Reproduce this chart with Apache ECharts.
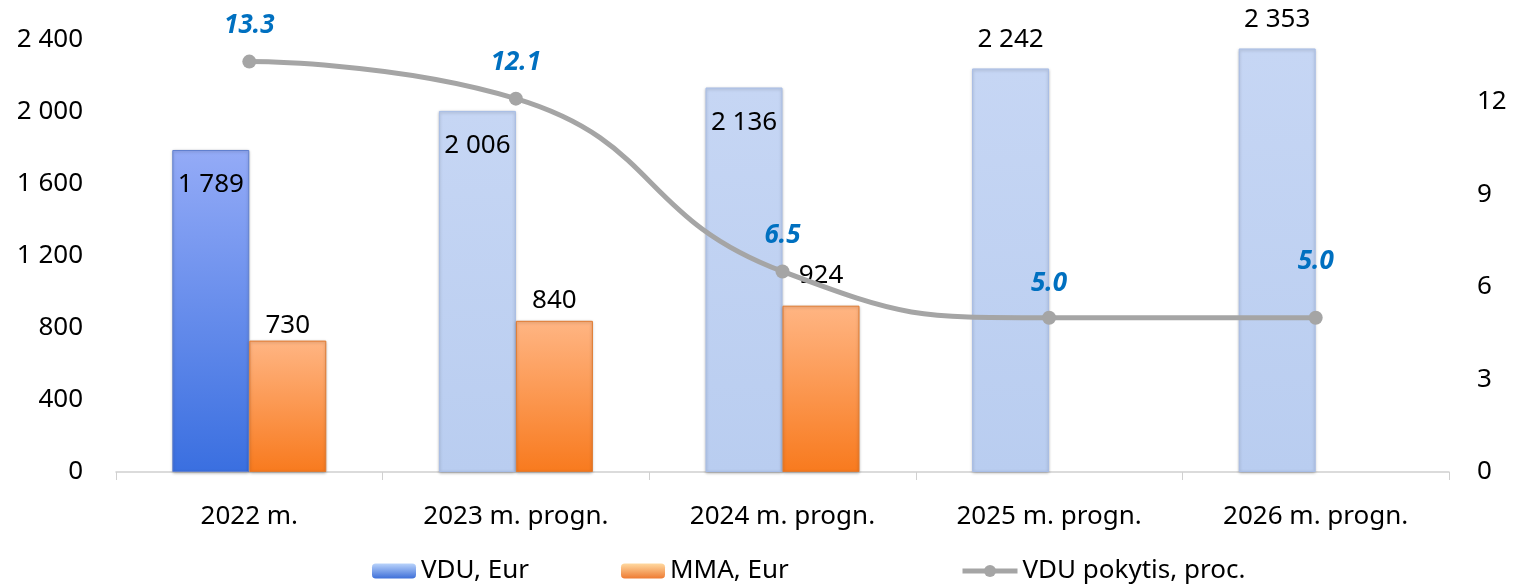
<!DOCTYPE html>
<html><head><meta charset="utf-8">
<script src="https://cdn.jsdelivr.net/npm/echarts@6/dist/echarts.min.js"></script>
<style>html,body{margin:0;padding:0;background:#fff}#c{width:1514px;height:587px}</style>
</head><body><div id="c"></div>
<script>
const categories = ['2022 m.', '2023 m. progn.', '2024 m. progn.', '2025 m. progn.', '2026 m. progn.'];
const vduValues = [1789, 2006, 2136, 2242, 2353];
const mmaValues = [730, 840, 924, null, null];
const growthValues = [13.3, 12.1, 6.5, 5.0, 5.0];
const leftTicks = [0, 400, 800, 1200, 1600, 2000, 2400];
const rightTicks = [0, 3, 6, 9, 12];

const FONT = 'Noto Sans';
const FS = 26;
function fmt(v){ return String(v).replace(/\B(?=(\d{3})+(?!\d))/g, ' '); }
function grad(top, bottom){ return new echarts.graphic.LinearGradient(0,0,0,1,[{offset:0,color:top},{offset:1,color:bottom}]); }

const darkBlue = grad('#94abf7', '#3a6fe0');
const lightBlue = grad('#c6d6f4', '#b9cdf0');
const orange = grad('#ffb583', '#f87a1e');

const vduLabelPos = [['insideTop', [0, 17]], ['insideTop', [0, 17]], ['insideTop', [0, 17]], ['top', [0, -11]], ['top', [0, -11]]];
const mmaLabelPos = [['top', [0, 3]], ['top', [0, -2]], ['top', [0, -12]]];
const growthOffsets = [16, 16, 16, 14, 36];

const chart = echarts.init(document.getElementById('c'));
chart.setOption({
  animation: false,
  textStyle: { fontFamily: FONT },
  grid: { left: 116, right: 65, top: 40, bottom: 115 },
  legend: [
    { left: 367, bottom: -2, itemWidth: 44, itemHeight: 15, textStyle: { fontSize: FS, color: '#000', fontFamily: FONT }, data: [{ name: 'VDU, Eur', itemStyle: { color: grad('#b9d3fb', '#3e6fd8') } }] },
    { left: 616, bottom: -2, itemWidth: 44, itemHeight: 15, textStyle: { fontSize: FS, color: '#000', fontFamily: FONT }, data: [{ name: 'MMA, Eur', itemStyle: { color: grad('#ffd9a0', '#ee7b33') } }] },
    { left: 955, bottom: -2, itemWidth: 55, itemHeight: 15, textStyle: { fontSize: FS, color: '#000', fontFamily: FONT }, data: [{ name: 'VDU pokytis, proc.', lineStyle: { width: 5, color: '#a5a5a5' }, itemStyle: { color: '#a5a5a5' } }] }
  ],
  xAxis: {
    type: 'category', data: categories,
    axisLine: { lineStyle: { color: '#d0d0d0', width: 1.5 } },
    axisTick: { show: true, length: 8, lineStyle: { color: '#d0d0d0' } },
    axisLabel: { fontSize: FS, color: '#000', margin: 32, fontFamily: FONT }
  },
  yAxis: [
    { type: 'value', min: 0, max: 2400, interval: 400, splitLine: { show: false },
      axisLine: { show: false }, axisTick: { show: false },
      axisLabel: { fontSize: FS, color: '#000', margin: 33, fontFamily: FONT, formatter: v => leftTicks.includes(v) ? fmt(v) : '' } },
    { type: 'value', min: 0, max: 14, interval: 3, splitLine: { show: false },
      axisLine: { show: false }, axisTick: { show: false },
      axisLabel: { fontSize: FS, color: '#000', margin: 28, fontFamily: FONT, formatter: v => rightTicks.includes(v) ? String(v) : '' } }
  ],
  series: [
    { name: 'VDU, Eur', type: 'bar', barWidth: 77, barGap: '0%',
      data: vduValues.map((v, i) => ({ value: v,
        itemStyle: { color: i === 0 ? darkBlue : lightBlue, borderColor: i === 0 ? '#5f7fcf' : '#a8bde6', borderWidth: 1, shadowColor: 'rgba(0,0,0,0.25)', shadowBlur: 3, shadowOffsetY: 1 },
        label: { position: vduLabelPos[i][0], offset: vduLabelPos[i][1] } })),
      label: { show: true, fontSize: FS, color: '#000', fontFamily: FONT, formatter: p => fmt(p.value) } },
    { name: 'MMA, Eur', type: 'bar', barWidth: 77,
      data: mmaValues.map((v, i) => v == null ? null : ({ value: v,
        itemStyle: { color: orange, borderColor: '#e07a30', borderWidth: 1, shadowColor: 'rgba(0,0,0,0.25)', shadowBlur: 3, shadowOffsetY: 1 },
        label: { position: mmaLabelPos[i][0], offset: mmaLabelPos[i][1] } })),
      label: { show: true, fontSize: FS, color: '#000', fontFamily: FONT, formatter: p => fmt(p.value) } },
    { name: 'VDU pokytis, proc.', type: 'line', yAxisIndex: 1, smooth: 0.5,
      symbol: 'circle', symbolSize: 14,
      lineStyle: { color: '#a5a5a5', width: 5 },
      itemStyle: { color: '#a5a5a5' },
      data: growthValues.map((v, i) => ({ value: v, label: { distance: growthOffsets[i] } })),
      label: { show: true, position: 'top', fontSize: FS, fontWeight: 'bold', fontStyle: 'italic', color: '#0070c0', fontFamily: FONT, formatter: p => p.value.toFixed(1) },
      z: 5 }
  ]
});
</script></body></html>
